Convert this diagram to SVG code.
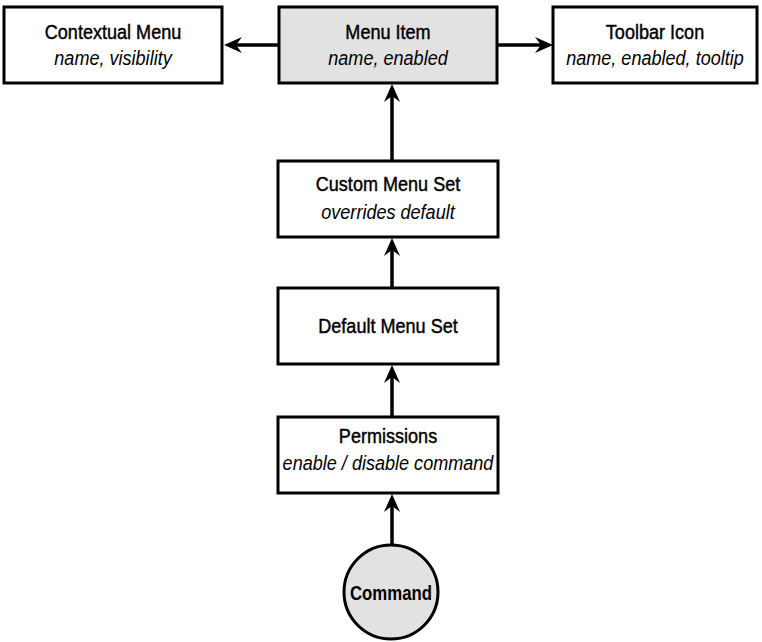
<svg xmlns="http://www.w3.org/2000/svg" width="762" height="642" viewBox="0 0 762 642">
<style>
  .box { fill: #ffffff; stroke: #000; stroke-width: 3; }
  .gray { fill: #e2e2e2; stroke: #000; stroke-width: 3; }
  .t { font-family: "Liberation Sans", Arial, sans-serif; font-size: 21px; text-anchor: middle; fill: #000; stroke: #000; stroke-width: 0.45; }
  .s { font-family: "Liberation Sans", Arial, sans-serif; font-size: 21px; font-style: italic; text-anchor: middle; fill: #000; }
  .b { font-family: "Liberation Sans", Arial, sans-serif; font-size: 21px; font-weight: bold; text-anchor: middle; fill: #000; }
  .edge { stroke: #000; stroke-width: 3.5; fill: none; marker-end: url(#arr); }
</style>
<defs>
  <marker id="arr" markerUnits="userSpaceOnUse" markerWidth="20" markerHeight="18" refX="9" refY="9" orient="auto">
    <path d="M0,1 L18,9 L0,17 L6,9 z" fill="#000"/>
  </marker>
</defs>
<rect width="762" height="642" fill="#ffffff"/>
<g id="connectors">
  <line class="edge" x1="279" y1="45" x2="233" y2="45"/>
  <line class="edge" x1="497" y1="45" x2="544" y2="45"/>
  <line class="edge" x1="392" y1="161" x2="392" y2="93"/>
  <line class="edge" x1="392" y1="288" x2="392" y2="247"/>
  <line class="edge" x1="392" y1="417" x2="392" y2="374"/>
  <line class="edge" x1="392" y1="545" x2="392" y2="503"/>
</g>
<g id="contextual-menu">
  <rect class="box" x="4" y="7" width="218" height="76"/>
  <text class="t" transform="translate(113,39) scale(0.86,1)">Contextual Menu</text>
  <text class="s" transform="translate(113,65) scale(0.86,1)">name, visibility</text>
</g>
<g id="menu-item">
  <rect class="gray" x="279" y="7" width="218" height="76"/>
  <text class="t" transform="translate(388,39) scale(0.86,1)">Menu Item</text>
  <text class="s" transform="translate(388,65) scale(0.86,1)">name, enabled</text>
</g>
<g id="toolbar-icon">
  <rect class="box" x="553" y="7" width="204" height="76"/>
  <text class="t" transform="translate(655,39) scale(0.86,1)">Toolbar Icon</text>
  <text class="s" transform="translate(655,65) scale(0.86,1)">name, enabled, tooltip</text>
</g>
<g id="custom-menu-set">
  <rect class="box" x="278" y="161" width="220" height="76"/>
  <text class="t" transform="translate(388,191) scale(0.86,1)">Custom Menu Set</text>
  <text class="s" transform="translate(388,219) scale(0.86,1)">overrides default</text>
</g>
<g id="default-menu-set">
  <rect class="box" x="278" y="288" width="220" height="76"/>
  <text class="t" transform="translate(388,333) scale(0.86,1)">Default Menu Set</text>
</g>
<g id="permissions">
  <rect class="box" x="278" y="417" width="220" height="76"/>
  <text class="t" transform="translate(388,443) scale(0.86,1)">Permissions</text>
  <text class="s" transform="translate(388,470) scale(0.86,1)">enable / disable command</text>
</g>
<g id="command">
  <circle class="gray" cx="391" cy="592" r="47"/>
  <text class="b" transform="translate(391,600) scale(0.8,1)">Command</text>
</g>
</svg>
